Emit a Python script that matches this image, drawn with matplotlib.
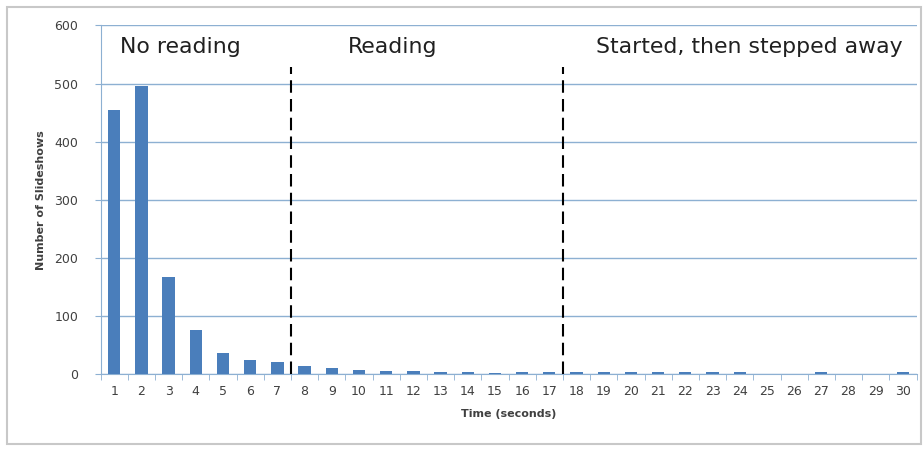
import matplotlib.pyplot as plt
import matplotlib.patches as mpatches
import numpy as np

# Data
seconds = list(range(1, 31))
counts = [455, 495, 167, 76, 37, 24, 21, 14, 10, 7,
          5, 5, 3, 3, 2, 3, 3, 3, 3, 3,
          3, 3, 3, 4, 0, 0, 3, 0, 0, 3]
phase_labels = ["No reading", "Reading", "Started, then stepped away"]
phase_bounds = [7.5, 17.5]
yticks = [0, 100, 200, 300, 400, 500, 600]

bar_color = '#4A7EBB'
grid_color = '#8DB0D2'
text_color = '#404040'

fig = plt.figure(figsize=(9.23, 4.53), dpi=100)

# light outer frame like the Excel chart area
fig.patches.append(mpatches.Rectangle((0.008, 0.02), 0.99, 0.965, transform=fig.transFigure,
                                      fill=False, edgecolor='#C8C8C8', linewidth=1.5))

ax = fig.add_axes([0.109, 0.174, 0.884, 0.77])
ax.bar(seconds, counts, width=0.45, color=bar_color, zorder=3)

ax.set_xlim(0.5, 30.5)
ax.set_ylim(0, 600)
ax.set_yticks(yticks)
ax.yaxis.grid(True, color=grid_color, linewidth=1, zorder=0)

# tick labels at categories, tick marks between them
ax.set_xticks(seconds)
ax.tick_params(axis='x', length=0, pad=8, labelsize=9, labelcolor=text_color)
ax.set_xticks(np.arange(0.5, 31, 1), minor=True)
ax.tick_params(axis='x', which='minor', length=4, color=grid_color, direction='out')
ax.tick_params(axis='y', length=4, color=grid_color, labelsize=9, labelcolor=text_color, pad=12)

for side in ['top', 'right']:
    ax.spines[side].set_visible(False)
ax.spines['left'].set_color(grid_color)
ax.spines['bottom'].set_color(grid_color)

ax.set_ylabel('Number of Slideshows', fontsize=8, fontweight='bold', color=text_color, labelpad=6)
ax.set_xlabel('Time (seconds)', fontsize=8, fontweight='bold', color=text_color, labelpad=8)

# phase separators
for b in phase_bounds:
    ax.plot([b, b], [0, 528], color='black', linestyle=(0, (6, 3)), linewidth=1.5, zorder=4)

ax.text(1.2, 563, phase_labels[0], fontsize=15.8, color='#202020', va='center')
ax.text(9.6, 563, phase_labels[1], fontsize=15.8, color='#202020', va='center')
ax.text(18.7, 563, phase_labels[2], fontsize=15.8, color='#202020', va='center')

plt.savefig('out.png', dpi=100)
